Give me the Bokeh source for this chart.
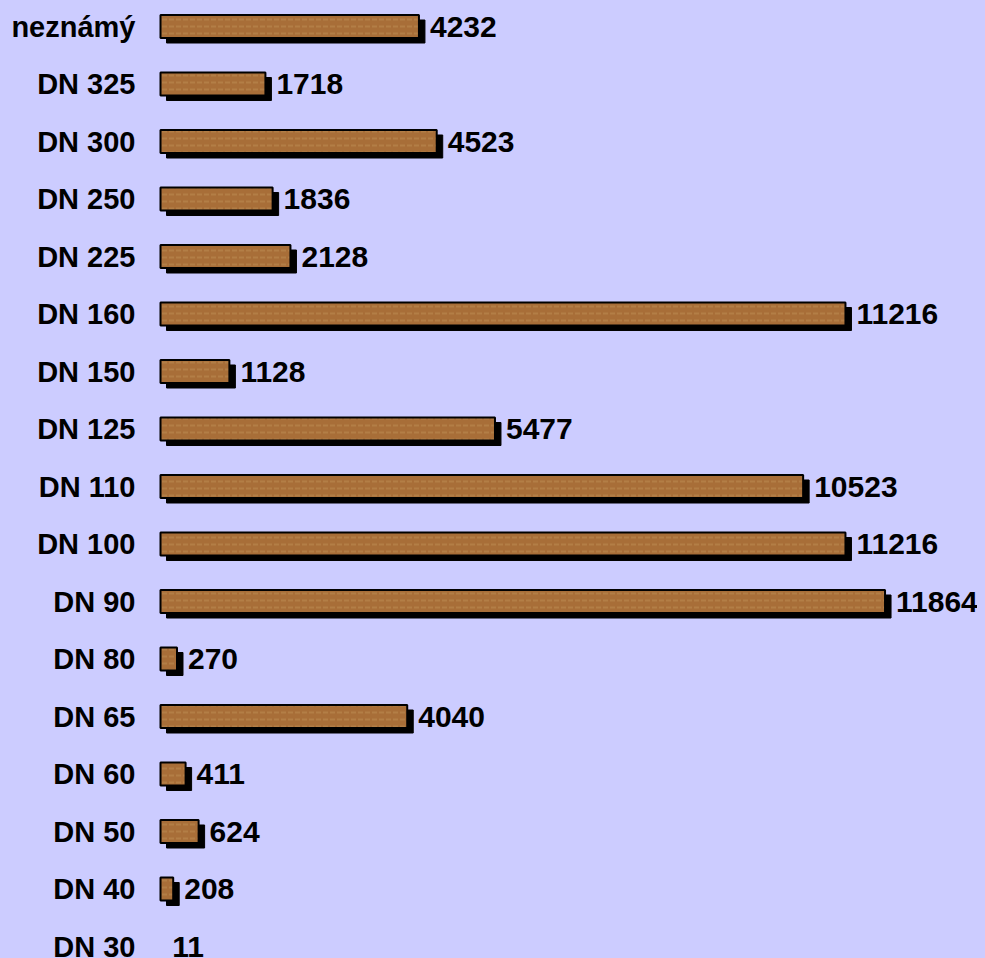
from bokeh.plotting import figure
from bokeh.models import ColumnDataSource, Range1d
from bokeh.transform import dodge
from bokeh.core.properties import value
from bokeh.embed import file_html
from bokeh.resources import INLINE

categories = ["neznámý", "DN 325", "DN 300", "DN 250", "DN 225", "DN 160", "DN 150",
              "DN 125", "DN 110", "DN 100", "DN 90", "DN 80", "DN 65", "DN 60",
              "DN 50", "DN 40", "DN 30"]
values = [4232, 1718, 4523, 1836, 2128, 11216, 1128, 5477, 10523, 11216, 11864,
          270, 4040, 411, 624, 208, 11]

n = len(categories)
ypos = [n - 1 - i for i in range(n)]

BG = "#CCCCFF"
FONT = "Liberation Sans"
W, H = 969, 950
ZERO_PX = 152          # x pixel of value 0 inside the figure
PX_PER_UNIT = 0.06107
ROW_PX = 57.5
TOP_PX = 18            # centre of first row from the top
X_START = -ZERO_PX / PX_PER_UNIT
X_END = (W - ZERO_PX) / PX_PER_UNIT
Y_END = (n - 1) + TOP_PX / ROW_PX
Y_START = -(H - TOP_PX - (n - 1) * ROW_PX) / ROW_PX

SH_X = 6 / PX_PER_UNIT
SH_Y = 5 / ROW_PX

alpha = [1.0 if v * PX_PER_UNIT >= 2 else 0.0 for v in values]
src = ColumnDataSource(dict(y=ypos, value=values, label=[str(v) for v in values],
                            cat=categories, zero=[0] * n, a=alpha))

p = figure(width=W, height=H, output_backend="svg", toolbar_location=None,
           x_range=Range1d(X_START, X_END), y_range=Range1d(Y_START, Y_END),
           x_axis_location=None, y_axis_location=None,
           min_border_left=0, min_border_right=0,
           min_border_top=0, min_border_bottom=0)
p.background_fill_color = BG
p.border_fill_color = BG
p.outline_line_color = None
p.grid.visible = False

# shadow
p.hbar(y=dodge("y", -SH_Y), left=dodge("zero", SH_X), right=dodge("value", SH_X),
       height=0.40, source=src, fill_color="black", line_color="black",
       fill_alpha="a", line_alpha="a")
# bars
p.hbar(y="y", left="zero", right="value", height=0.40, source=src,
       fill_color="#A86E38", line_color="black", line_width=2,
       fill_alpha="a", line_alpha="a",
       hatch_pattern="horizontal_dash", hatch_color="#C99A62", hatch_alpha=0.35,
       hatch_scale=7, hatch_weight=2)

# value labels
p.text(x="value", y="y", text="label", source=src, x_offset=11,
       text_align="left", text_baseline="middle", text_font=value(FONT),
       text_font_style="bold", text_font_size="30px", text_color="black")

# category labels
p.text(x="zero", y="y", text="cat", source=src, x_offset=-25,
       text_align="right", text_baseline="middle", text_font=value(FONT),
       text_font_style="bold", text_font_size="29px", text_color="black")

html = file_html(p, INLINE)
html = html.replace(
    "</head>",
    "<style>html,body{background:#CCCCFF;overflow:hidden;}body{margin:8px;}</style></head>",
    1)
open("out.html", "w").write(html)
